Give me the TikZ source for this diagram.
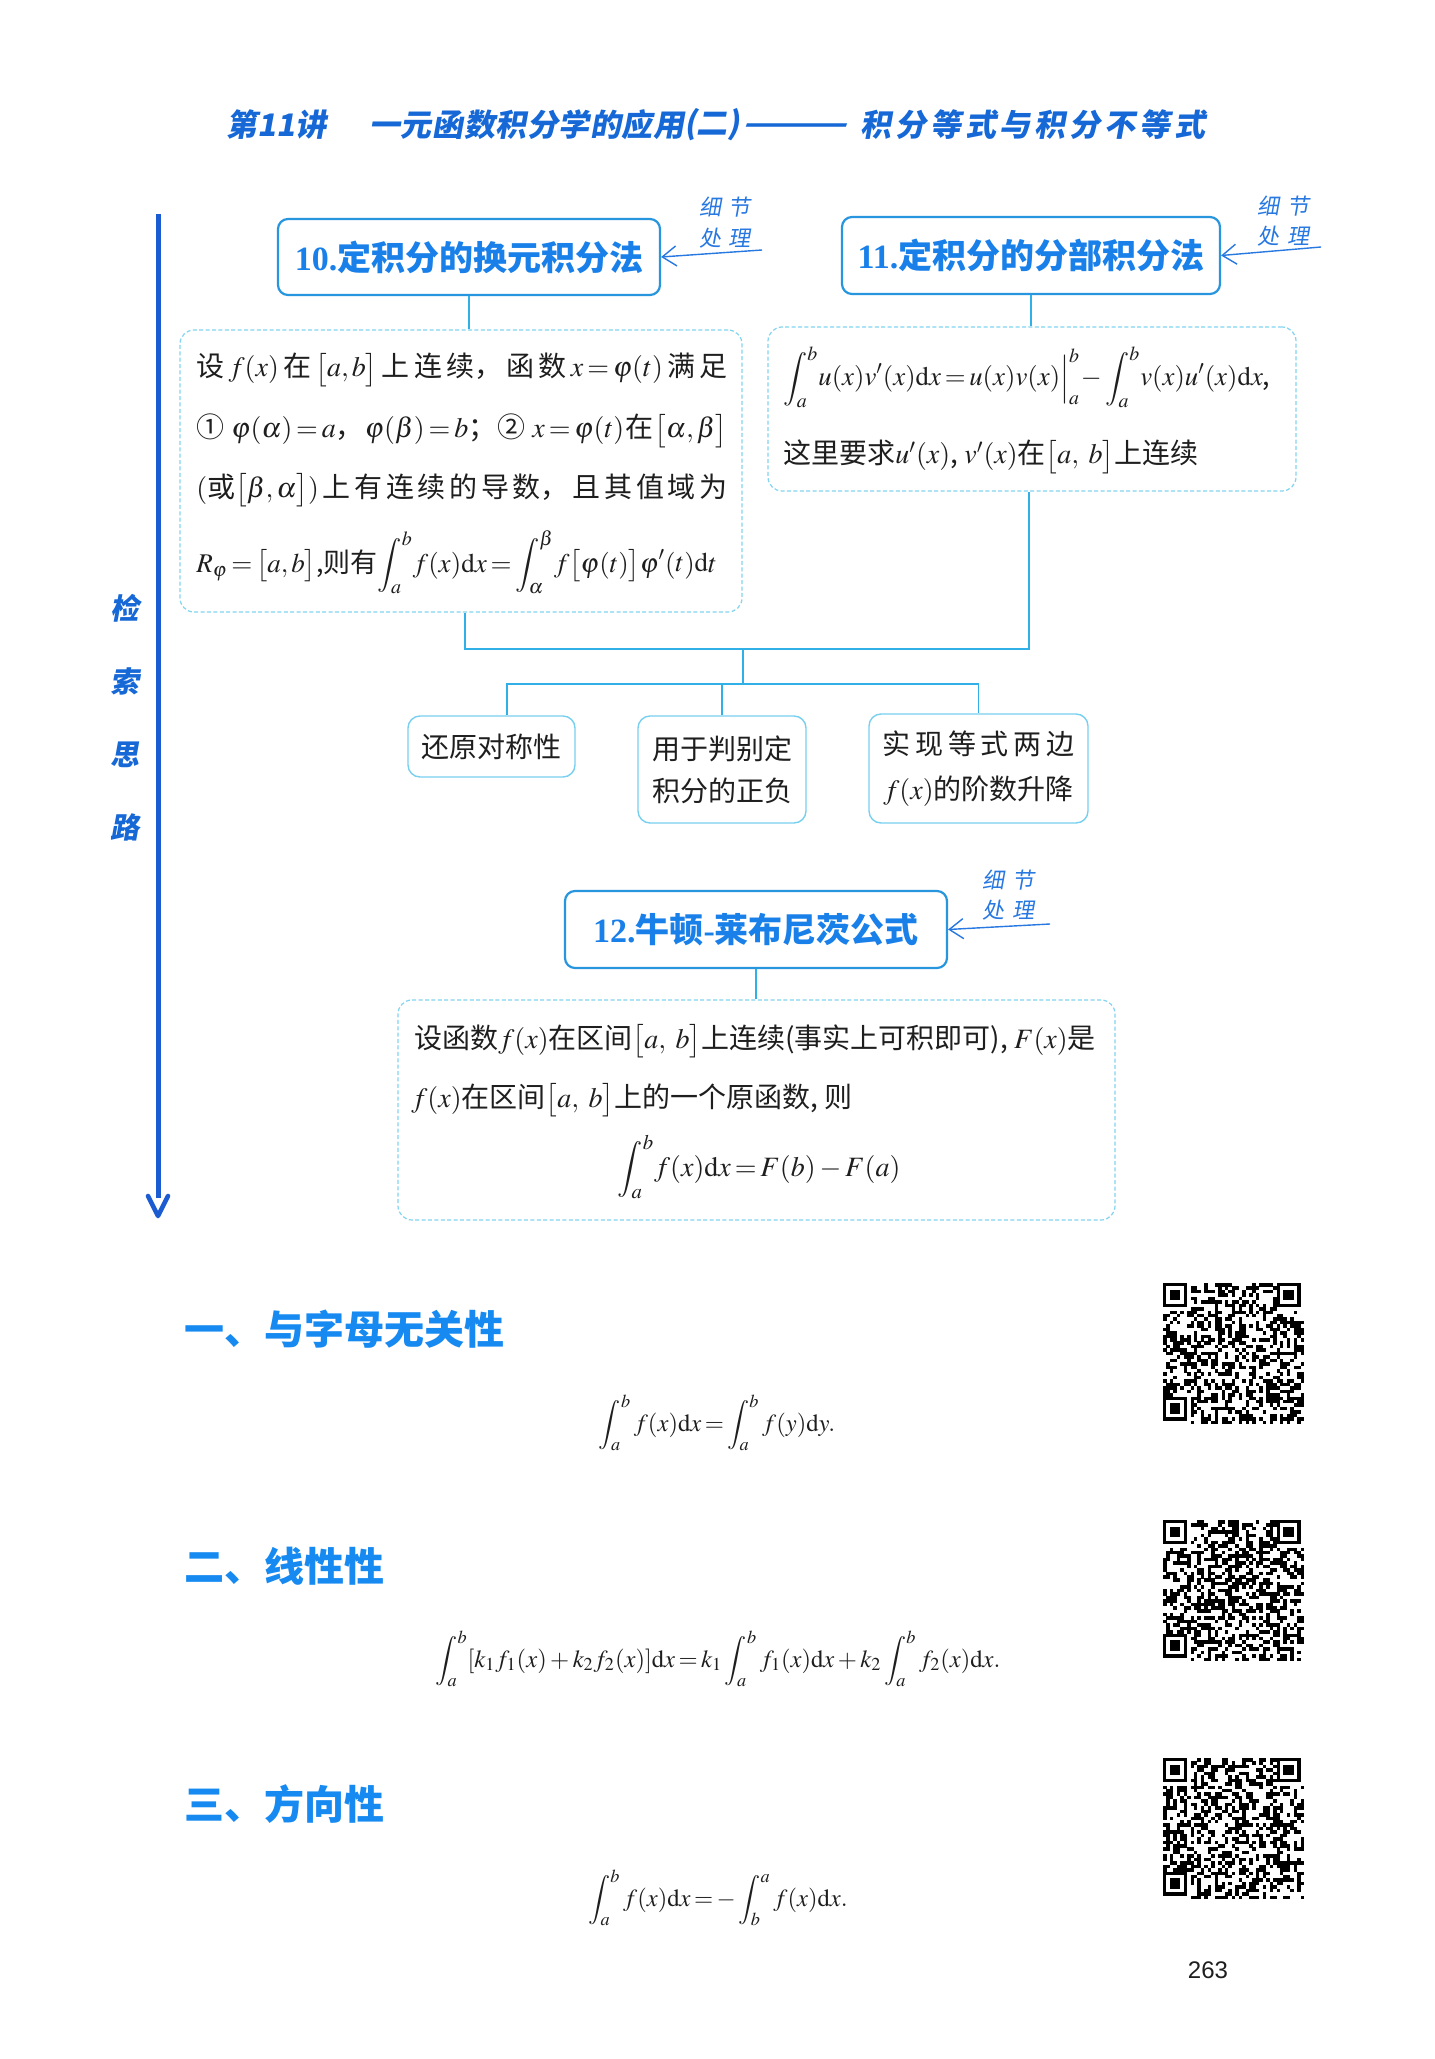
\documentclass[tikz,border=0pt]{standalone}
\usepackage{mathptmx}
\usepackage[no-math]{fontspec}
\setmainfont{Noto Sans CJK SC}
\newfontfamily\hdfont[FakeSlant=0.18]{Noto Sans CJK SC}
\newfontfamily\tmsfont{Liberation Serif}
\newfontfamily\pgnfont{Liberation Sans}
\usetikzlibrary{arrows.meta}

\XeTeXlinebreaklocale "zh"
\XeTeXlinebreakskip=0pt
\thickmuskip=2.5mu plus 2mu
\medmuskip=2.5mu plus 1mu

\definecolor{hdblue}{RGB}{22,104,214}
\definecolor{ttblue}{RGB}{24,128,232}
\definecolor{frame}{RGB}{40,150,222}
\definecolor{wirec}{RGB}{48,176,230}
\definecolor{dashc}{RGB}{130,212,240}
\definecolor{softc}{RGB}{120,208,240}
\definecolor{spinec}{RGB}{28,92,210}
\definecolor{notec}{RGB}{40,120,225}
\definecolor{secblue}{RGB}{22,138,240}
\definecolor{ink}{RGB}{30,30,30}

\newcommand\bodyfont{\fontsize{14}{20}\selectfont}
% a line of fixed width whose characters are spread evenly
\newcommand\spreadline[2]{\parbox[b]{#1}{\parindent=0pt\parfillskip=0pt\XeTeXlinebreakskip=0pt plus 1fil\relax #2}}
\newcommand\gp{\hspace{0pt plus 1fil}}
% integral with its limits set close to the integrand
\newcommand\intab[2]{\int_{#1}^{#2}\!}

% pseudo QR pattern, top-left corner at (#1,#2), seed #3
\newcommand\qrpattern[3]{%
  \pgfmathsetseed{#3}%
  \foreach \i in {0,...,40}{\foreach \j in {0,...,40}{%
    \pgfmathtruncatemacro\qon{rnd<0.48}%
    \pgfmathtruncatemacro\qz{(\i<8)*(\j<8)+(\i>32)*(\j<8)+(\i<8)*(\j>32)}%
    \ifnum\qon=1 \ifnum\qz=0
      \fill[black] ({#1+\i*3.44},{#2+\j*3.44}) rectangle +(3.5,3.5);
    \fi\fi}}%
  \foreach \fx/\fy in {0/0,33/0,0/33}{%
    \fill[black] ({#1+\fx*3.44},{#2+\fy*3.44}) rectangle +(24.08,24.08);
    \fill[white] ({#1+(\fx+1)*3.44},{#2+(\fy+1)*3.44}) rectangle +(17.2,17.2);
    \fill[black] ({#1+(\fx+2)*3.44},{#2+(\fy+2)*3.44}) rectangle +(10.32,10.32);
  }%
}

\tikzset{
  titlebox/.style={draw=frame, line width=1.1pt, rounded corners=5pt, fill=white,
    inner sep=0pt, text=ttblue, font=\fontsize{17}{20}\selectfont\bfseries},
  infobox/.style={draw=dashc, dash pattern=on 2pt off 1.2pt, line width=0.6pt,
    rounded corners=7pt, inner sep=0pt},
  leafbox/.style={draw=softc, line width=0.7pt, rounded corners=6pt, inner sep=0pt,
    text=ink, font=\bodyfont},
  wire/.style={draw=wirec, line width=0.8pt},
  notetext/.style={text=notec, font=\hdfont\fontsize{11}{13}\selectfont, inner sep=0pt},
  notearrow/.style={draw=notec, line width=0.7pt, -{Straight Barb[length=7pt,width=10pt]}},
  bodytext/.style={text=ink, font=\bodyfont, inner sep=0pt},
  sectitle/.style={text=secblue, font=\fontsize{20}{24}\selectfont\bfseries, inner sep=0pt, anchor=west},
  formula/.style={text=ink, font=\fontsize{12.3}{14}\selectfont, inner sep=0pt, anchor=base},
  headtext/.style={text=hdblue, font=\hdfont\bfseries\fontsize{15.5}{18}\selectfont, inner sep=0pt, anchor=west},
  spinetext/.style={text=hdblue, font=\hdfont\bfseries\fontsize{14.5}{16}\selectfont, inner sep=0pt}
}

\begin{document}
\begin{tikzpicture}[x=0.5pt,y=-0.5pt]
\useasboundingbox (0,0) rectangle (1434,2059);
\fill[white] (0,0) rectangle (1434,2059);

% chapter heading
\node[headtext] (hd1) at (226,125) {第11讲};
\node[headtext] (hd2) at (369,125) {\spreadline{157.5pt}{一元函数积分学的应用}};
\node[headtext] (hd3) at (684,125) {(二)\scalebox{2}[1]{——}};
\node[headtext] (hd4) at (860,125) {\spreadline{172.5pt}{积分等式与积分不等式}};

% left spine with its label
\coordinate (sp0) at (158,214);
\coordinate (sp1) at (158,1198);
\draw[draw=spinec, line width=2.5pt] (sp0) -- (sp1);
\draw[draw=spinec, line width=2.3pt, line cap=round, line join=round]
  (148,1196) -- (158,1216) -- (168,1196);
\node[spinetext] (s1) at (125,608) {检};
\node[spinetext] (s2) at (125,681) {索};
\node[spinetext] (s3) at (125,755) {思};
\node[spinetext] (s4) at (125,827) {路};

% topic boxes
\node[titlebox, minimum width=191pt, minimum height=38pt] (t10) at (469,257)
  {{\tmsfont 10.}定积分的换元积分法};
\node[titlebox, minimum width=189pt, minimum height=38.5pt] (t11) at (1031,255.5)
  {{\tmsfont 11.}定积分的分部积分法};
\node[titlebox, minimum width=191pt, minimum height=38.5pt] (t12) at (756,929.5)
  {{\tmsfont 12.}牛顿{\tmsfont -}莱布尼茨公式};

% side notes
\node[notetext] (n10a) at (725,207) {细\hspace{4pt}节};
\node[notetext] (n10b) at (725,238) {处\hspace{4pt}理};
\coordinate (n10s) at (762,250);
\draw[notearrow] (n10s) -- (t10.east);
\node[notetext] (n11a) at (1283,206) {细\hspace{4pt}节};
\node[notetext] (n11b) at (1283,236) {处\hspace{4pt}理};
\coordinate (n11s) at (1321,247);
\draw[notearrow] (n11s) -- (t11.east);
\node[notetext] (n12a) at (1008,880) {细\hspace{4pt}节};
\node[notetext] (n12b) at (1008,910) {处\hspace{4pt}理};
\coordinate (n12s) at (1050,924);
\draw[notearrow] (n12s) -- (t12.east);

% detail frames
\node[infobox, minimum width=281pt, minimum height=141pt] (boxA) at (461,471) {};
\node[infobox, minimum width=264pt, minimum height=82pt] (boxB) at (1032,409) {};
\node[infobox, minimum width=358.5pt, minimum height=110pt] (boxD) at (756.5,1110) {};

% substitution rule
\node[bodytext, anchor=base west] (a1) at (196,377)
  {\spreadline{265.5pt}{设\gp{}$f(x)$\gp{}在\gp{}$\bigl[a,b\bigr]$\gp{}上连续，函数\gp{}$x=\varphi(t)$\gp{}满足}};
\node[bodytext, anchor=base west] (a2) at (196,438)
  {\spreadline{265.5pt}{①\hspace{3pt}\gp{}$\varphi(\alpha)=a$，\gp{}$\varphi(\beta)=b$；\gp{}②\hspace{3pt}\gp{}$x=\varphi(t)$\gp{}在\gp{}$\bigl[\alpha,\beta\bigr]$}};
\node[bodytext, anchor=base west] (a3) at (196,497)
  {\spreadline{265.5pt}{$($或$\bigl[\beta,\alpha\bigr])$\gp{}上有连续的导数，且其值域为}};
\node[bodytext, anchor=base west, font=\fontsize{13.5}{20}\selectfont] (a4) at (196,572)
  {$R_\varphi=\bigl[a,b\bigr]$,则有$\displaystyle\intab ab f(x)\mathrm{d}x=\intab\alpha\beta f\bigl[\varphi(t)\bigr]\varphi'(t)\mathrm{d}t$};

% integration by parts
\node[bodytext, anchor=base west, font=\fontsize{13.4}{20}\selectfont] (b1) at (783,386)
  {$\displaystyle\intab ab u(x)v'(x)\mathrm{d}x=u(x)v(x)\Big|_a^b\!-\intab ab v(x)u'(x)\mathrm{d}x$,};
\node[bodytext, anchor=base west] (b2) at (783,464)
  {这里要求$u'(x)$, $v'(x)$在$\bigl[a,\ b\bigr]$上连续};

% Newton--Leibniz
\node[bodytext, anchor=base west] (d1) at (414,1048)
  {设函数$f(x)$在区间$\bigl[a,\ b\bigr]$上连续(事实上可积即可), $F(x)$是};
\node[bodytext, anchor=base west] (d2) at (411,1107)
  {$f(x)$在区间$\bigl[a,\ b\bigr]$上的一个原函数, 则};
\node[bodytext, anchor=base] (d3) at (759,1176)
  {$\displaystyle\intab ab f(x)\mathrm{d}x=F(b)-F(a)$};

% consequences
\node[leafbox, minimum width=83.5pt, minimum height=30.5pt] (c1) at (491.5,746.5) {还原对称性};
\node[leafbox, minimum width=84pt, minimum height=53.5pt, align=center,
  font=\fontsize{14}{21}\selectfont] (c2) at (722,769.5) {用于判别定\\积分的正负};
\node[leafbox, minimum width=109.5pt, minimum height=54.5pt, align=center,
  font=\fontsize{14}{22.5}\selectfont] (c3) at (978.5,768.5)
  {\spreadline{96pt}{实现等式两边}\\$f(x)$的阶数升降};

% connectors
\draw[wire] (t10.south) -- (t10.south |- boxA.north);
\draw[wire] (t11.south) -- (t11.south |- boxB.north);
\draw[wire] (t12.south) -- (t12.south |- boxD.north);
\coordinate (jA) at (465,649);
\coordinate (jB) at (1029,649);
\coordinate (jM) at (743,649);
\coordinate (split) at (743,684);
\coordinate (k1) at (507,684);
\draw[wire] (boxA.south -| jA) -- (jA) -- (jB) -- (boxB.south -| jB);
\draw[wire] (jM) -- (split);
\draw[wire] (k1 |- c1.north) -- (k1) -- (k1 -| c3.north) -- (c3.north);
\draw[wire] (split -| c2.north) -- (c2.north);

% properties
\node[sectitle] (p1) at (184,1329) {一、与字母无关性};
\node[formula] (f1) at (717,1431)
  {$\displaystyle\int_a^b f(x)\mathrm{d}x=\int_a^b f(y)\mathrm{d}y.$};
\node[sectitle] (p2) at (184,1566) {二、线性性};
\node[formula] (f2) at (718,1667)
  {$\displaystyle\int_a^b[k_1f_1(x)+k_2f_2(x)]\mathrm{d}x=k_1\int_a^b f_1(x)\mathrm{d}x+k_2\int_a^b f_2(x)\mathrm{d}x.$};
\node[sectitle] (p3) at (184,1804) {三、方向性};
\node[formula] (f3) at (718,1906)
  {$\displaystyle\int_a^b f(x)\mathrm{d}x=-\int_b^a f(x)\mathrm{d}x.$};

% codes
\qrpattern{1163}{1283}{17}
\qrpattern{1163}{1520}{29}
\qrpattern{1163}{1758}{41}

\node[font=\pgnfont\fontsize{12}{14}\selectfont, text=ink, inner sep=0pt] (pg) at (1208,1970) {263};
\end{tikzpicture}
\end{document}
